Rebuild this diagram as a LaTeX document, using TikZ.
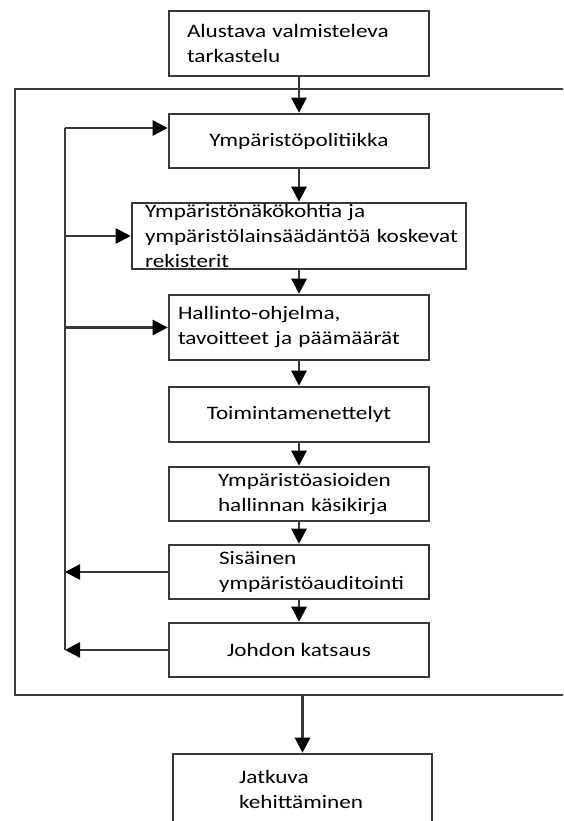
\documentclass[tikz,border=0pt]{standalone}
\usepackage{fontspec}
\setmainfont[FakeStretch=1.22]{Carlito}
\usetikzlibrary{arrows.meta,positioning,calc}
\hyphenpenalty=10000
\exhyphenpenalty=10000

\tikzset{
    viiva/.style={draw=black!78, line width=2.6pt},
    laatikko/.style={viiva, rectangle, minimum width=260pt, inner ysep=0pt,
        font=\fontsize{19}{25}\selectfont},
    vasen/.style={text width=#1, align=left},
    nuoli/.style={viiva, -{Triangle[length=15pt,width=15pt,color=black]}},
}

\begin{document}
\begin{tikzpicture}[x=1pt,y=-1pt]
    \useasboundingbox (0,0) rectangle (563,821);
    \clip (0,0) rectangle (563,821);
    \fill[white] (0,0) rectangle (563,821);

    % laatikot
    \node[laatikko, minimum height=65pt, inner xsep=18pt, vasen=224pt] (alku) at (299,43.5)
        {Alustava valmisteleva\\tarkastelu};
    \node[laatikko, minimum height=54pt, align=center] (politiikka) at (299,141)
        {Ympäristöpolitiikka};
    \node[laatikko, minimum width=334pt, minimum height=66pt, inner xsep=13pt, vasen=308pt] (rekisterit) at (299,236)
        {Ympäristönäkökohtia ja\\ympäristölainsäädäntöä~koskevat\\rekisterit};
    \node[laatikko, minimum height=65pt, inner xsep=9pt, vasen=242pt] (ohjelma) at (299,327.5)
        {Hallinto-ohjelma,\\tavoitteet ja päämäärät};
    \node[laatikko, minimum height=55pt, align=center] (menettelyt) at (299,414.5)
        {Toimintamenettelyt};
    \node[laatikko, minimum height=54pt, inner xsep=49pt, vasen=162pt] (kasikirja) at (299,494)
        {Ympäristöasioiden\\hallinnan~käsikirja};
    \node[laatikko, minimum height=54pt, inner xsep=50pt, vasen=160pt] (auditointi) at (299,572)
        {Sisäinen\\ympäristöauditointi};
    \node[laatikko, minimum height=54pt, align=center] (johto) at (299,650)
        {Johdon katsaus};
    \node[laatikko, minimum width=259pt, minimum height=70pt, inner xsep=66pt, vasen=127pt] (kehitys) at (302.5,789)
        {Jatkuva\\kehittäminen};

    % kehys
    \coordinate (kehysNW) at (15,89);
    \coordinate (kehysSE) at (640,695);
    \draw[viiva] (kehysNW) rectangle (kehysSE);

    % paaketju
    \draw[nuoli] (alku) -- (politiikka);
    \draw[nuoli] (politiikka) -- (rekisterit);
    \draw[nuoli] (rekisterit) -- (ohjelma);
    \draw[nuoli] (ohjelma) -- (menettelyt);
    \draw[nuoli] (menettelyt) -- (kasikirja);
    \draw[nuoli] (kasikirja) -- (auditointi);
    \draw[nuoli] (auditointi) -- (johto);
    \draw[nuoli] (kehitys.north |- kehysSE) -- (kehitys.north);

    % paluusilmukka
    \coordinate (silmukka) at (65,128);
    \draw[viiva] (silmukka |- johto.west) -- (silmukka);
    \draw[nuoli] (silmukka) -- (silmukka -| politiikka.west);
    \draw[nuoli] (silmukka |- rekisterit.west) -- (rekisterit.west);
    \draw[nuoli] (silmukka |- ohjelma.west) -- (ohjelma.west);
    \draw[nuoli] (auditointi.west) -- (silmukka |- auditointi.west);
    \draw[nuoli] (johto.west) -- (silmukka |- johto.west);
\end{tikzpicture}
\end{document}
